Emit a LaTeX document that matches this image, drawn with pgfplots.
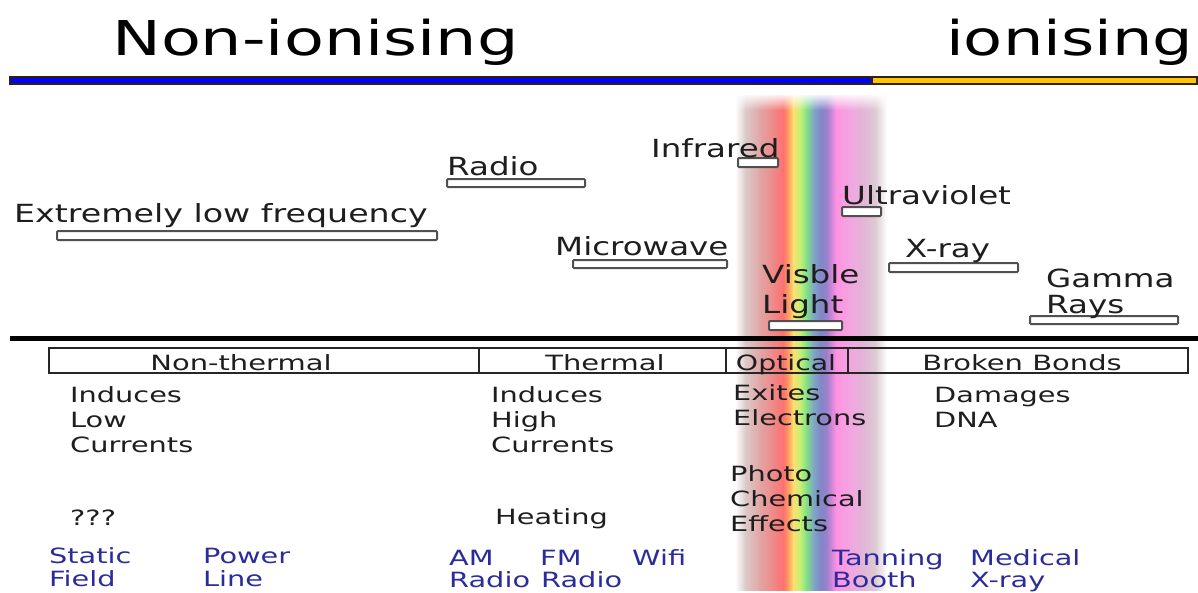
\documentclass[border=0pt]{standalone}
\usepackage{pgfplots}
\pgfplotsset{compat=1.18}
\usepackage{graphicx}
\usepackage{fontspec}
\setmainfont{DejaVu Sans}
\usetikzlibrary{fadings}
\tikzfading[name=fadetop, top color=transparent!0, bottom color=transparent!100]
\definecolor{txt}{HTML}{1E1E1E}
\definecolor{bluetxt}{HTML}{2B2B9C}
\definecolor{barline}{HTML}{505050}
\definecolor{gold}{HTML}{FFC400}
\definecolor{c0}{HTML}{FFFFFF}
\definecolor{c1}{HTML}{DCCACA}
\definecolor{c2}{HTML}{E2A4A4}
\definecolor{c3}{HTML}{F28484}
\definecolor{c4}{HTML}{FF7070}
\definecolor{c5}{HTML}{FFA862}
\definecolor{c6}{HTML}{FFE070}
\definecolor{c7}{HTML}{C4F074}
\definecolor{c8}{HTML}{84E284}
\definecolor{c9}{HTML}{80A8C4}
\definecolor{c10}{HTML}{8088C8}
\definecolor{c11}{HTML}{9880CA}
\definecolor{c12}{HTML}{D888DC}
\definecolor{c13}{HTML}{FF92E2}
\definecolor{c14}{HTML}{F2A6E0}
\definecolor{c15}{HTML}{E2B4D8}
\definecolor{c16}{HTML}{DCCAD2}
\newcommand{\lab}[3][1.3]{\scalebox{#1}[1]{\fontsize{#2}{#2}\selectfont #3}}
\newcommand{\band}[4]{\addplot[draw=none, left color=#3, right color=#4, forget plot] coordinates {(#1,95) (#2,95) (#2,590) (#1,590)} -- cycle;}
\newcommand{\radbar}[4]{\addplot[draw=barline, line width=2pt, fill=white, rounded corners=1pt, forget plot] coordinates {(#1,#3) (#2,#3) (#2,#4) (#1,#4)} -- cycle;}
\begin{document}
\begin{tikzpicture}
\begin{axis}[
  scale only axis, width=1198pt, height=592pt,
  xmin=0, xmax=1198, ymin=0, ymax=592, y dir=reverse,
  hide axis, clip=false]
% spectrum band
\band{735}{745.5}{c0}{c1}
\band{745}{760.5}{c1}{c2}
\band{760}{775.5}{c2}{c3}
\band{775}{783.5}{c3}{c4}
\band{783}{789.5}{c4}{c5}
\band{789}{793.5}{c5}{c6}
\band{793}{800.5}{c6}{c7}
\band{800}{806.5}{c7}{c8}
\band{806}{813.5}{c8}{c9}
\band{813}{820.5}{c9}{c10}
\band{820}{826.5}{c10}{c11}
\band{826}{832.5}{c11}{c12}
\band{832}{836.5}{c12}{c13}
\band{836}{850.5}{c13}{c14}
\band{850}{862.5}{c14}{c15}
\band{862}{875.5}{c15}{c16}
\band{875}{887}{c16}{c0}
\addplot[draw=none, fill=white, path fading=fadetop, forget plot] coordinates {(730,93) (892,93) (892,110) (730,110)} -- cycle;
% top bar
\addplot[draw=black!75!brown, line width=1.2pt, fill=blue, forget plot] coordinates {(10,77) (872,77) (872,84) (10,84)} -- cycle;
\addplot[draw=black!75!brown, line width=1.2pt, fill=gold, forget plot] coordinates {(872,77) (1197,77) (1197,84) (872,84)} -- cycle;
% thick black line
\addplot[black, line width=5pt, forget plot] coordinates {(10,338) (1198,338)};
% bands of radiation
\radbar{57}{437}{231}{240}
\radbar{447}{585}{179}{187}
\radbar{573}{727}{260}{268}
\radbar{738}{778}{158}{167}
\radbar{769}{842}{321}{330}
\radbar{842}{881}{207}{216}
\radbar{889}{1018}{263}{272}
\radbar{1030}{1178}{316}{324}
% category boxes
\addplot[draw=black!85, line width=1.5pt, fill=none, forget plot] coordinates {(49,348) (1188,348) (1188,373) (49,373)} -- cycle;
\addplot[draw=black!85, line width=1.5pt, forget plot] coordinates {(479,348) (479,373)};
\addplot[draw=black!85, line width=1.5pt, forget plot] coordinates {(726,348) (726,373)};
\addplot[draw=black!85, line width=1.5pt, forget plot] coordinates {(848,348) (848,373)};
% titles
\node[anchor=base west, inner sep=0, text=black] at (axis cs:112,55) {\lab[1.36]{48}{Non-ionising}};
\node[anchor=base west, inner sep=0, text=black] at (axis cs:946,55) {\lab[1.33]{48}{ionising}};
% band labels
\node[anchor=base west, inner sep=0, text=txt] at (axis cs:14,222) {\lab[1.33]{25}{Extremely low frequency}};
\node[anchor=base west, inner sep=0, text=txt] at (axis cs:447,175) {\lab{25}{Radio}};
\node[anchor=base west, inner sep=0, text=txt] at (axis cs:651,157) {\lab{25}{Infrared}};
\node[anchor=base west, inner sep=0, text=txt] at (axis cs:555,255) {\lab{25}{Microwave}};
\node[anchor=base west, inner sep=0, text=txt] at (axis cs:842,204) {\lab{25}{Ultraviolet}};
\node[anchor=base west, inner sep=0, text=txt] at (axis cs:905,257) {\lab{25}{X-ray}};
\node[anchor=base west, inner sep=0, text=txt] at (axis cs:762,283) {\lab{25}{Visble}};
\node[anchor=base west, inner sep=0, text=txt] at (axis cs:762,313) {\lab{25}{Light}};
\node[anchor=base west, inner sep=0, text=txt] at (axis cs:1046,287) {\lab{25}{Gamma}};
\node[anchor=base west, inner sep=0, text=txt] at (axis cs:1046,313) {\lab{25}{Rays}};
% category labels
\node[anchor=base, inner sep=0, text=txt] at (axis cs:241,370) {\lab[1.38]{21}{Non-thermal}};
\node[anchor=base, inner sep=0, text=txt] at (axis cs:605,370) {\lab[1.38]{21}{Thermal}};
\node[anchor=base, inner sep=0, text=txt] at (axis cs:786,370) {\lab[1.35]{21}{Optical}};
\node[anchor=base, inner sep=0, text=txt] at (axis cs:1022,370) {\lab[1.38]{21}{Broken Bonds}};
% effects
\node[anchor=base west, inner sep=0, text=txt] at (axis cs:70,402) {\lab[1.37]{21}{Induces}};
\node[anchor=base west, inner sep=0, text=txt] at (axis cs:70,427) {\lab[1.37]{21}{Low}};
\node[anchor=base west, inner sep=0, text=txt] at (axis cs:70,452) {\lab[1.37]{21}{Currents}};
\node[anchor=base west, inner sep=0, text=txt] at (axis cs:70,525) {\lab[1.37]{21}{???}};
\node[anchor=base west, inner sep=0, text=txt] at (axis cs:491,402) {\lab[1.37]{21}{Induces}};
\node[anchor=base west, inner sep=0, text=txt] at (axis cs:491,427) {\lab[1.37]{21}{High}};
\node[anchor=base west, inner sep=0, text=txt] at (axis cs:491,452) {\lab[1.37]{21}{Currents}};
\node[anchor=base west, inner sep=0, text=txt] at (axis cs:495,524) {\lab[1.37]{21}{Heating}};
\node[anchor=base west, inner sep=0, text=txt] at (axis cs:733,400) {\lab[1.37]{21}{Exites}};
\node[anchor=base west, inner sep=0, text=txt] at (axis cs:733,425) {\lab[1.37]{21}{Electrons}};
\node[anchor=base west, inner sep=0, text=txt] at (axis cs:730,481) {\lab[1.37]{21}{Photo}};
\node[anchor=base west, inner sep=0, text=txt] at (axis cs:730,506) {\lab[1.37]{21}{Chemical}};
\node[anchor=base west, inner sep=0, text=txt] at (axis cs:730,531) {\lab[1.37]{21}{Effects}};
\node[anchor=base west, inner sep=0, text=txt] at (axis cs:934,402) {\lab[1.37]{21}{Damages}};
\node[anchor=base west, inner sep=0, text=txt] at (axis cs:934,427) {\lab[1.37]{21}{DNA}};
% examples
\node[anchor=base west, inner sep=0, text=bluetxt] at (axis cs:49,563) {\lab[1.37]{21}{Static}};
\node[anchor=base west, inner sep=0, text=bluetxt] at (axis cs:49,586) {\lab[1.37]{21}{Field}};
\node[anchor=base west, inner sep=0, text=bluetxt] at (axis cs:203,563) {\lab[1.37]{21}{Power}};
\node[anchor=base west, inner sep=0, text=bluetxt] at (axis cs:203,586) {\lab[1.37]{21}{Line}};
\node[anchor=base west, inner sep=0, text=bluetxt] at (axis cs:449,565) {\lab[1.37]{21}{AM}};
\node[anchor=base west, inner sep=0, text=bluetxt] at (axis cs:449,587) {\lab[1.37]{21}{Radio}};
\node[anchor=base west, inner sep=0, text=bluetxt] at (axis cs:540,565) {\lab[1.37]{21}{FM}};
\node[anchor=base west, inner sep=0, text=bluetxt] at (axis cs:541,587) {\lab[1.37]{21}{Radio}};
\node[anchor=base west, inner sep=0, text=bluetxt] at (axis cs:632,565) {\lab[1.37]{21}{Wifi}};
\node[anchor=base west, inner sep=0, text=bluetxt] at (axis cs:832,565) {\lab[1.37]{21}{Tanning}};
\node[anchor=base west, inner sep=0, text=bluetxt] at (axis cs:832,587) {\lab[1.37]{21}{Booth}};
\node[anchor=base west, inner sep=0, text=bluetxt] at (axis cs:970,565) {\lab[1.37]{21}{Medical}};
\node[anchor=base west, inner sep=0, text=bluetxt] at (axis cs:970,587) {\lab[1.37]{21}{X-ray}};
\end{axis}
\pgfresetboundingbox
\path (current axis.south west) rectangle (current axis.north east);
\end{tikzpicture}
\end{document}
